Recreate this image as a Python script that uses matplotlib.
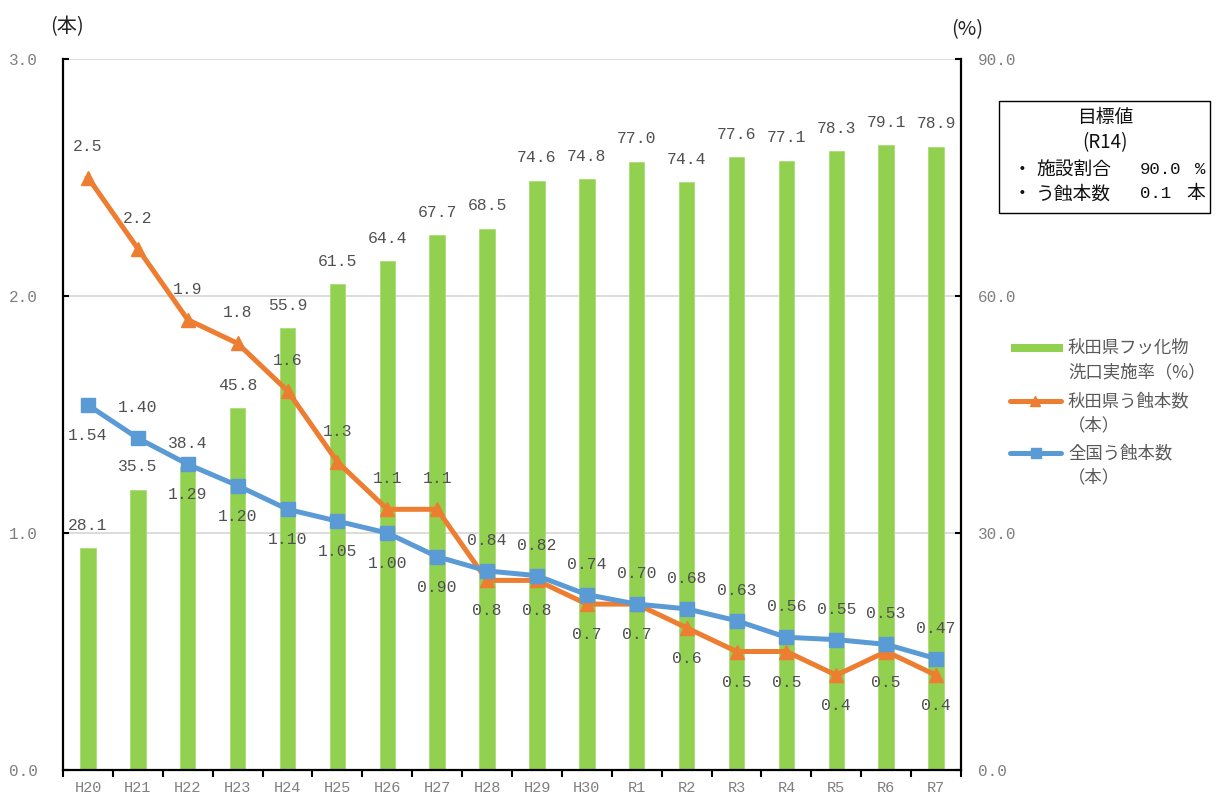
import matplotlib
matplotlib.use('Agg')
import matplotlib.pyplot as plt
from matplotlib.lines import Line2D
from matplotlib.patches import Rectangle
import numpy as np

# ---------------- data ----------------
categories = ['H20', 'H21', 'H22', 'H23', 'H24', 'H25', 'H26', 'H27', 'H28',
              'H29', 'H30', 'R1', 'R2', 'R3', 'R4', 'R5', 'R6', 'R7']
fluoride_rate = [28.1, 35.5, 38.4, 45.8, 55.9, 61.5, 64.4, 67.7, 68.5,
                 74.6, 74.8, 77.0, 74.4, 77.6, 77.1, 78.3, 79.1, 78.9]
akita_caries = [2.5, 2.2, 1.9, 1.8, 1.6, 1.3, 1.1, 1.1, 0.8,
                0.8, 0.7, 0.7, 0.6, 0.5, 0.5, 0.4, 0.5, 0.4]
national_caries = [1.54, 1.40, 1.29, 1.20, 1.10, 1.05, 1.00, 0.90, 0.84,
                   0.82, 0.74, 0.70, 0.68, 0.63, 0.56, 0.55, 0.53, 0.47]
left_ticks = [0.0, 1.0, 2.0, 3.0]
right_ticks = [0.0, 30.0, 60.0, 90.0]

legend_labels = [('秋田県フッ化物', '洗口実施率（%）'),
                 ('秋田県う蝕本数', '（本）'),
                 ('全国う蝕本数', '（本）')]

# label placement (layout only): +1 above, -1 below
akita_side = [1] * 8 + [-1] * 10
national_side = [-1, 1, -1, -1, -1, -1, -1, -1] + [1] * 10

GREEN = '#92D050'
ORANGE = '#ED7D31'
BLUE = '#5B9BD5'
LABEL_C = '#505050'
TICK_C = '#7F7F7F'
MONO = 'Liberation Mono'
JP = ['Noto Sans CJK JP', 'DejaVu Sans']

W, H = 1216, 798
fx = lambda px: px / W
fy = lambda py: 1 - py / H

fig = plt.figure(figsize=(W / 100, H / 100), dpi=100)
ax = fig.add_axes([fx(63), fy(770), 898 / W, 711 / H])
ax2 = ax.twinx()

x = np.arange(len(categories))

# bars on right axis
ax2.bar(x, fluoride_rate, width=0.31, color=GREEN, edgecolor='#A9DC75',
        linewidth=0.6, zorder=2)
ax2.set_ylim(0, 90)
ax2.set_yticks(right_ticks)
ax2.set_yticklabels([f'{t:.1f}' for t in right_ticks], fontfamily=MONO,
                    fontsize=11.5, color=TICK_C)
ax2.yaxis.grid(True, color='#D9D9D9', linewidth=1.3)
ax2.set_axisbelow(True)
ax2.tick_params(axis='y', direction='in', length=4, width=1.5, pad=12,
                color='black')

# lines on left axis (on top)
ax.set_zorder(ax2.get_zorder() + 1)
ax.patch.set_visible(False)
ax.plot(x, akita_caries, color=ORANGE, lw=3.6, marker='^', ms=10,
        zorder=3, solid_joinstyle='round')
ax.plot(x, national_caries, color=BLUE, lw=3.6, marker='s', ms=10,
        zorder=4, solid_joinstyle='round')
ax.set_ylim(0, 3)
ax.set_xlim(-0.5, len(categories) - 0.5)
ax.set_yticks(left_ticks)
ax.set_yticklabels([f'{t:.1f}' for t in left_ticks], fontfamily=MONO,
                   fontsize=11.5, color=TICK_C)
ax.tick_params(axis='y', direction='in', length=4, width=1.5, pad=18,
               color='black')

ax.set_xticks(x)
ax.set_xticklabels(categories, fontfamily=MONO, fontsize=11, color=TICK_C)
ax.tick_params(axis='x', which='major', length=0, pad=8)
ax.set_xticks(np.arange(-0.5, len(categories), 1.0), minor=True)
ax.tick_params(axis='x', which='minor', direction='out', length=5, width=1.5,
               color='black')

for a in (ax, ax2):
    a.spines['top'].set_visible(False)
ax.spines['right'].set_visible(False)
ax2.spines['left'].set_visible(False)
ax2.spines['bottom'].set_visible(False)
ax.spines['left'].set_linewidth(1.6)
ax.spines['bottom'].set_linewidth(1.6)
ax2.spines['right'].set_linewidth(1.6)

# data labels
LBL_FS = 11.8
for i, v in enumerate(fluoride_rate):
    ax.annotate(f'{v:.1f}', (i, v), xycoords=ax2.transData,
                xytext=(0, 16.5), textcoords='offset points', ha='center',
                va='center', fontfamily=MONO, fontsize=LBL_FS, color=LABEL_C,
                zorder=6)
for i, v in enumerate(akita_caries):
    ax.annotate(f'{v:.1f}', (i, v), xytext=(0, 22 * akita_side[i]),
                textcoords='offset points', ha='center', va='center',
                fontfamily=MONO, fontsize=LBL_FS, color=LABEL_C, zorder=6)
for i, v in enumerate(national_caries):
    ax.annotate(f'{v:.2f}', (i, v), xytext=(0, 22 * national_side[i]),
                textcoords='offset points', ha='center', va='center',
                fontfamily=MONO, fontsize=LBL_FS, color=LABEL_C, zorder=6)

# axis unit labels
fig.text(fx(67), fy(27), '(本)', ha='center', va='center', fontsize=14.5,
         family=JP, color='#222222')
fig.text(fx(967), fy(30), '(%)', ha='center', va='center', fontsize=14.5,
         family=JP, color='#222222')

# target box
fig.add_artist(Rectangle((fx(999), fy(213)), 211 / W, 112 / H,
                         transform=fig.transFigure, fill=False,
                         edgecolor='black', linewidth=1.0))
fig.text(fx(1105), fy(118), '目標値', ha='center', va='center', fontsize=13.5,
         family=JP, color='#111111')
fig.text(fx(1105), fy(143), '(R14)', ha='center', va='center', fontsize=13.5,
         family=JP, color='#111111')
fig.text(fx(1022), fy(169), '・', ha='center', va='center', fontsize=13.5,
         family=JP, color='#111111')
fig.text(fx(1036), fy(169), '施設割合', ha='left', va='center', fontsize=13.5,
         family=JP, color='#111111')
fig.text(fx(1140), fy(169), '90.0', ha='left', va='center', fontsize=12.5,
         family=MONO, color='#111111')
fig.text(fx(1200), fy(169), '%', ha='center', va='center', fontsize=12.5,
         family=MONO, color='#111111')
fig.text(fx(1022), fy(194), '・', ha='center', va='center', fontsize=13.5,
         family=JP, color='#111111')
fig.text(fx(1036), fy(194), 'う蝕本数', ha='left', va='center', fontsize=13.5,
         family=JP, color='#111111')
fig.text(fx(1140), fy(194), '0.1', ha='left', va='center', fontsize=12.5,
         family=MONO, color='#111111')
fig.text(fx(1196), fy(194), '本', ha='center', va='center', fontsize=13.5,
         family=JP, color='#111111')

# legend (manual)
leg_y = [348, 401, 453]
fig.add_artist(Line2D([fx(1011), fx(1063)], [fy(leg_y[0])] * 2,
                      transform=fig.transFigure, color=GREEN, lw=5.8,
                      solid_capstyle='butt'))
fig.add_artist(Line2D([fx(1010), fx(1061)], [fy(leg_y[1])] * 2,
                      transform=fig.transFigure, color=ORANGE, lw=3.6,
                      solid_capstyle='round'))
fig.add_artist(Line2D([fx(1035)], [fy(leg_y[1])], transform=fig.transFigure,
                      color=ORANGE, marker='^', ms=7, lw=0))
fig.add_artist(Line2D([fx(1010), fx(1061)], [fy(leg_y[2])] * 2,
                      transform=fig.transFigure, color=BLUE, lw=3.6,
                      solid_capstyle='round'))
fig.add_artist(Line2D([fx(1036)], [fy(leg_y[2])], transform=fig.transFigure,
                      color=BLUE, marker='s', ms=7, lw=0))
for (l1, l2), yy in zip(legend_labels, leg_y):
    fig.text(fx(1068), fy(yy), l1, ha='left', va='center', fontsize=12.5,
             family=JP, color='#595959')
    fig.text(fx(1068), fy(yy + 24), l2, ha='left', va='center', fontsize=12.5,
             family=JP, color='#595959')

fig.savefig('out.png', dpi=100)
